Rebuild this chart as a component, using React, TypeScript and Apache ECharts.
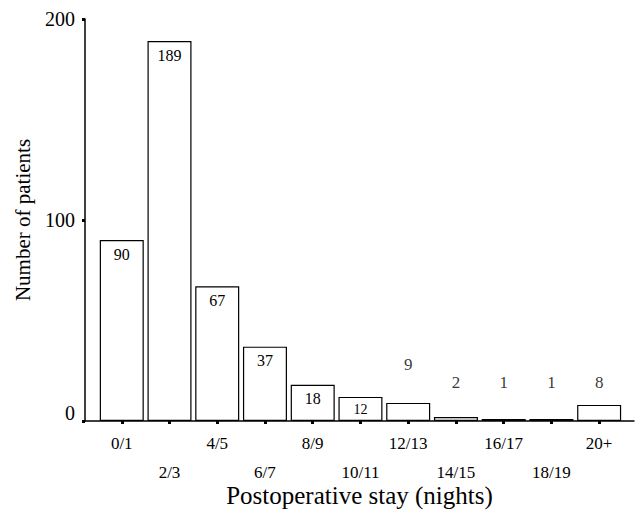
import React, { useEffect, useRef } from "react";
import * as echarts from "echarts";

const categories = ["0/1", "2/3", "4/5", "6/7", "8/9", "10/11", "12/13", "14/15", "16/17", "18/19", "20+"];
const patients = [90, 189, 67, 37, 18, 12, 9, 2, 1, 1, 8];
// bars whose count is written inside the bar top
const insideLabel = [true, true, true, true, true, true, false, false, false, false, false];
// heights (in patients) at which the outside counts are written
const outsideLabelLevel = [0, 0, 0, 0, 0, 0, 28, 19, 19, 19, 19];
const yTicks = [0, 100, 200];

const FONT = "'Liberation Serif', 'Times New Roman', serif";

export default function App() {
  const ref = useRef<HTMLDivElement>(null);
  useEffect(() => {
    if (!ref.current) return;
    const chart = echarts.init(ref.current, undefined, { renderer: "svg" });
    const idx = categories.map((_, i) => i);
    chart.setOption({
      animation: false,
      backgroundColor: "#ffffff",
      textStyle: { fontFamily: FONT, color: "#000" },
      grid: {
        left: 85,
        right: 6,
        top: 19,
        bottom: 92,
        containLabel: false,
        outerBoundsMode: "none",
      },
      xAxis: {
        type: "value",
        min: -0.77,
        max: 10.73,
        splitLine: { show: false },
        axisLine: { show: true, onZero: false, lineStyle: { color: "#000", width: 1.5 } },
        axisTick: {
          show: true,
          customValues: idx,
          length: 3,
          lineStyle: { color: "#000", width: 3 },
        },
        axisLabel: {
          show: true,
          customValues: idx,
          margin: 8,
          fontFamily: FONT,
          fontSize: 17,
          color: "#000",
          lineHeight: 29,
          formatter: (v: number) => {
            const i = Math.round(v);
            return i % 2 === 1 ? "\n" + categories[i] : categories[i];
          },
        },
        name: "Postoperative stay (nights)",
        nameLocation: "middle",
        nameGap: 62,
        nameMoveOverlap: false,
        nameTextStyle: { fontFamily: FONT, fontSize: 25, color: "#000" },
      },
      yAxis: {
        type: "value",
        min: 0,
        max: 200,
        interval: 100,
        splitLine: { show: false },
        axisLine: { show: true, onZero: false, lineStyle: { color: "#000", width: 1.5 } },
        axisTick: { show: true, length: 3, lineStyle: { color: "#000", width: 3 } },
        axisLabel: {
          margin: 10,
          fontFamily: FONT,
          fontSize: 20,
          color: "#000",
          formatter: (v: number) =>
            yTicks.includes(v) ? (v === 0 ? "{z|0}" : String(v)) : "",
          rich: {
            z: { fontFamily: FONT, fontSize: 20, color: "#000", padding: [0, 0, 16, 0] },
          },
        },
        name: "Number of patients",
        nameLocation: "middle",
        nameGap: 52,
        nameMoveOverlap: false,
        nameTextStyle: { fontFamily: FONT, fontSize: 21, color: "#000" },
      },
      series: [
        {
          type: "bar",
          barWidth: 44,
          data: patients.map((v, i) => ({
            value: [i, v],
            label: {
              show: insideLabel[i],
              position: "insideTop",
              distance: 6,
              formatter: String(v),
              fontFamily: FONT,
              fontSize: v < 15 ? 14 : 16,
              color: "#000",
            },
          })),
          itemStyle: { color: "#fff", borderColor: "#000", borderWidth: 1.2 },
        },
        {
          type: "scatter",
          symbolSize: 0,
          silent: true,
          data: patients
            .map((v, i) => ({ i, v }))
            .filter((d) => !insideLabel[d.i])
            .map((d) => ({
              value: [d.i, outsideLabelLevel[d.i]],
              label: {
                show: true,
                position: "inside",
                formatter: String(d.v),
                fontFamily: FONT,
                fontSize: 17,
                color: "#000",
              },
            })),
        },
      ],
    });
    return () => chart.dispose();
  }, []);
  return (
    <div
      ref={ref}
      style={{ position: "fixed", left: 0, top: 0, width: 640, height: 513 }}
    />
  );
}
